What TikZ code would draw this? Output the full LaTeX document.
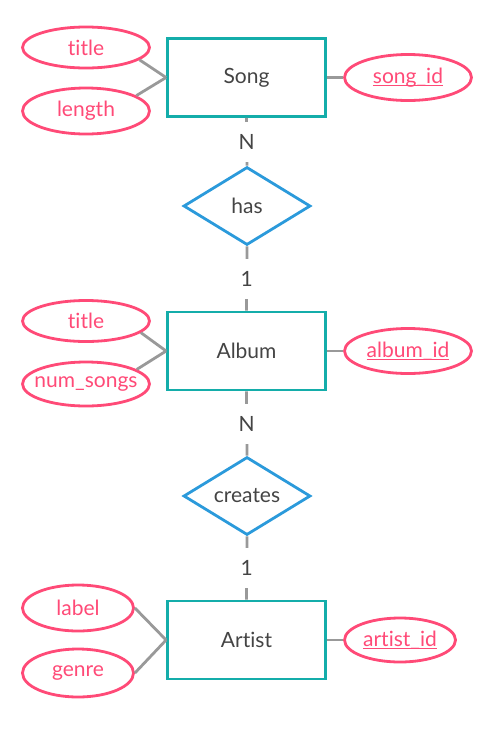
\documentclass[tikz,border=0pt]{standalone}
\usepackage{fontspec}
\setmainfont{Lato}[Ligatures=NoCommon]
\usetikzlibrary{shapes.geometric}
\definecolor{entc}{HTML}{14ADAA}
\definecolor{relc}{HTML}{2B9ADB}
\definecolor{attc}{HTML}{FF4A77}
\definecolor{linec}{HTML}{999999}
\definecolor{txtc}{HTML}{444444}
\newcommand\idul[1]{\setbox0\hbox{#1}\rlap{\rule[-2.6pt]{\wd0}{1.3pt}}\box0}
\tikzset{
  lblfont/.style={font=\fontsize{21}{24}\selectfont},
  entity/.style={draw=entc,line width=2.8pt,rectangle,minimum width=158pt,minimum height=78pt,inner sep=0pt,text=txtc,lblfont},
  relation/.style={draw=relc,line width=2.8pt,diamond,aspect=1.63,minimum width=127pt,minimum height=78pt,inner sep=0pt,text=txtc,lblfont},
  attr/.style={draw=attc,line width=2.8pt,ellipse,inner sep=0pt,text=attc,lblfont},
  conn/.style={draw=linec,line width=2.8pt},
  card/.style={fill=white,text=txtc,inner sep=0pt,minimum height=40pt,minimum width=20pt,lblfont},
}
\begin{document}
\begin{tikzpicture}[x=1pt,y=-1pt]
\useasboundingbox (0,0) rectangle (496,732);
% entities
\node[entity] (song) at (246.5,77.5) {Song};
\node[entity] (album) at (246.5,351) {Album};
\node[entity] (artist) at (246.5,640) {Artist};
% relations
\node[relation] (has) at (247,206) {has};
\node[relation] (creates) at (247,496) {creates};
% attributes
\node[attr,minimum width=127pt,minimum height=41pt] (stitle) at (86,47.5) {title};
\node[attr,minimum width=127pt,minimum height=46pt] (slength) at (86,111) {length};
\node[attr,minimum width=127pt,minimum height=46pt] (songid) at (408,77.5) {\idul{song\_id}};
\node[attr,minimum width=127pt,minimum height=41pt] (atitle) at (86,321) {title};
\node[attr,minimum width=127pt,minimum height=44pt] (anum) at (86,384) {\makebox[0pt]{num\_songs}};
\node[attr,minimum width=127pt,minimum height=45pt] (albumid) at (408,351) {\idul{album\_id}};
\node[attr,minimum width=111pt,minimum height=46pt] (label) at (78,608) {label};
\node[attr,minimum width=111pt,minimum height=48pt] (genre) at (78,673) {genre};
\node[attr,minimum width=111pt,minimum height=44pt] (artistid) at (400,640) {\idul{artist\_id}};
% attribute connectors
\draw[conn] (stitle.-13) -- (song.west);
\draw[conn] (slength.17) -- (song.west);
\draw[conn] (song.east) -- (songid.west);
\draw[conn] (atitle.-12) -- (album.west);
\draw[conn] (anum.16) -- (album.west);
\draw[conn] (album.east) -- (albumid.west);
\draw[conn] (label.east) -- (artist.west);
\draw[conn] (genre.east) -- (artist.west);
\draw[conn] (artist.east) -- (artistid.west);
% relationship connectors
\draw[conn] (song.south) -- node[card] (c1) {N} (has.north);
\draw[conn] (has.south) -- node[card] (c2) {1} (album.north);
\draw[conn] (album.south) -- node[card] (c3) {N} (creates.north);
\draw[conn] (creates.south) -- node[card] (c4) {1} (artist.north);
\end{tikzpicture}
\end{document}
